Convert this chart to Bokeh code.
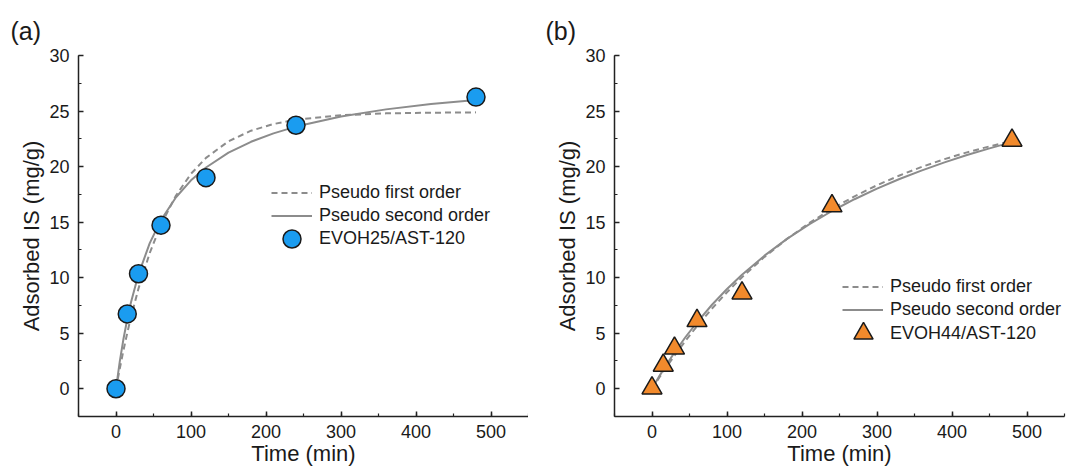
from bokeh.plotting import figure
from bokeh.layouts import row
from bokeh.models import Range1d, SingleIntervalTicker, Legend, LegendItem
from bokeh.embed import file_html
from bokeh.resources import INLINE

# ---------------- data ----------------
time_exp = [0, 15, 30, 60, 120, 240, 480]
a_exp = [0.0, 6.73, 10.35, 14.72, 19.0, 23.72, 26.26]
b_exp = [0.05, 2.1, 3.64, 6.12, 8.6, 16.45, 22.36]

fit_t_a = [0, 5, 10, 15, 20, 30, 45, 60, 80, 100, 120, 150, 180, 210, 240, 300, 360, 420, 480]
a_pfo = [0, 1.80, 3.47, 5.02, 6.45, 9.02, 12.22, 14.78, 17.40, 19.35, 20.78, 22.28,
         23.23, 23.83, 24.22, 24.62, 24.79, 24.85, 24.88]
a_pso = [0, 2.44, 4.50, 6.26, 7.79, 10.30, 13.11, 15.19, 17.24, 18.76, 19.92, 21.25,
         22.23, 22.99, 23.60, 24.50, 25.15, 25.63, 26.00]

fit_t_b = [0, 10, 20, 30, 45, 60, 80, 100, 120, 150, 180, 210, 240, 270, 300, 330, 360,
           390, 420, 450, 480]
b_pfo = [0, 1.04, 2.03, 2.98, 4.35, 5.63, 7.22, 8.69, 10.04, 11.87, 13.49, 14.93, 16.20,
         17.32, 18.32, 19.20, 19.98, 20.67, 21.28, 21.82, 22.30]
b_pso = [0, 1.16, 2.24, 3.26, 4.68, 5.98, 7.56, 8.98, 10.27, 11.98, 13.49, 14.82, 16.00,
         17.06, 18.01, 18.88, 19.66, 20.38, 21.04, 21.64, 22.20]

legend_labels = ["Pseudo first order", "Pseudo second order"]
series_a = "EVOH25/AST-120"
series_b = "EVOH44/AST-120"
panel_tags = ["(a)", "(b)"]
x_title = "Time (min)"
y_title = "Adsorbed IS (mg/g)"

FONT = "Liberation Sans"
TXT = "#1a1a1a"
LINE = "#8c8c8c"


def style_legend(leg, gw, gh, standoff):
    leg.border_line_color = None
    leg.background_fill_alpha = 0
    leg.label_text_font = FONT
    leg.label_text_font_size = "18px"
    leg.label_text_color = TXT
    leg.glyph_width = gw
    leg.glyph_height = gh
    leg.label_height = gh
    leg.label_standoff = standoff
    leg.spacing = 0
    leg.padding = 0
    leg.margin = 0


def panel(tag, tag_off, q_exp, t_fit, pfo, pso, marker, size, color, name,
          width, bl, br, line_loc, mk_loc, mk_glyph, mk_standoff):
    p = figure(width=width, height=468, x_range=Range1d(-50, 550),
               y_range=Range1d(-2.5, 30), output_backend="svg",
               toolbar_location=None, min_border_left=bl, min_border_right=br,
               min_border_top=55, min_border_bottom=51)
    p.outline_line_color = None
    p.grid.visible = False
    p.background_fill_color = "white"
    p.border_fill_color = "white"

    p.title.text = tag
    p.title.align = "left"
    p.title.offset = tag_off
    p.title.text_font = FONT
    p.title.text_font_size = "25px"
    p.title.text_font_style = "normal"
    p.title.text_color = TXT
    p.title.standoff = 22

    p.xaxis.ticker = SingleIntervalTicker(interval=100, num_minor_ticks=2)
    p.yaxis.ticker = SingleIntervalTicker(interval=5, num_minor_ticks=2)
    for ax in (p.xaxis, p.yaxis):
        ax.axis_line_color = "#222222"
        ax.axis_line_width = 1.5
        ax.major_tick_line_color = "#222222"
        ax.major_tick_line_width = 1.5
        ax.minor_tick_line_color = "#222222"
        ax.minor_tick_line_width = 1.2
        ax.major_tick_in = 5
        ax.major_tick_out = 0
        ax.minor_tick_in = 3
        ax.minor_tick_out = 0
        ax.major_label_text_font = FONT
        ax.major_label_text_font_size = "18px"
        ax.major_label_text_color = TXT
        ax.axis_label_text_font = FONT
        ax.axis_label_text_font_size = "22px"
        ax.axis_label_text_font_style = "normal"
        ax.axis_label_text_color = TXT
    p.xaxis.major_label_standoff = 8
    p.yaxis.major_label_standoff = 9
    p.yaxis.axis_label = y_title
    p.yaxis.axis_label_standoff = 2
    p.xaxis.axis_label = x_title
    p.xaxis.axis_label_standoff = 0

    r1 = p.line(t_fit, pfo, line_color=LINE, line_width=2, line_dash="6 4")
    r2 = p.line(t_fit, pso, line_color=LINE, line_width=2)
    r3 = p.scatter(time_exp, q_exp, marker=marker, size=size, fill_color=color,
                   line_color="#1a1a1a", line_width=1.5)

    leg1 = Legend(items=[LegendItem(label=legend_labels[0], renderers=[r1]),
                         LegendItem(label=legend_labels[1], renderers=[r2])],
                  location=line_loc)
    style_legend(leg1, 41, 23, 7)
    p.add_layout(leg1)

    leg2 = Legend(items=[LegendItem(label=name, renderers=[r3])], location=mk_loc)
    style_legend(leg2, mk_glyph, mk_glyph, mk_standoff)
    p.add_layout(leg2)
    return p


pa = panel(panel_tags[0], -68, a_exp, fit_t_a, a_pfo, a_pso, "circle", 18, "#1a9cf0",
           series_a, 528, 78, 0, (193, 189), (191, 155), 45, 5)
pb = panel(panel_tags[1], -69, b_exp, fit_t_b, b_pfo, b_pso, "triangle", 20, "#f28a2c",
           series_b, 542, 86, 6, (228, 95), (225, 59), 48, 3)

layout = row(pa, pb)
open("out.html", "w").write(file_html(layout, INLINE))
